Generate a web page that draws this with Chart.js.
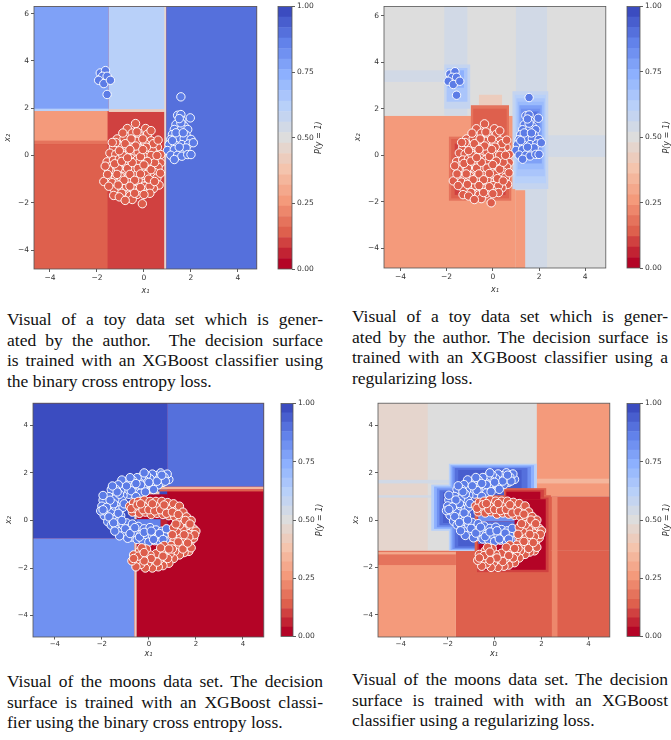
<!DOCTYPE html>
<html>
<head>
<meta charset="utf-8">
<script src="https://cdn.jsdelivr.net/npm/chart.js@4.4.1/dist/chart.umd.min.js"></script>
<style>
body { margin: 0; background: #fff; }
#fig { position: relative; width: 671px; height: 740px; overflow: hidden; }
canvas { position: absolute; }
.cap { position: absolute; width: 316px; font-family: 'Liberation Serif', 'Times New Roman', serif; font-size: 17.5px; line-height: 20.5px; color: #111; }
.cap div { white-space: nowrap; text-align: justify; text-align-last: justify; }
.cap div.last { text-align-last: left; }
</style>
</head>
<body>
<div id="fig">
  <canvas id="p1" width="262" height="300" style="left:0;top:0"></canvas>
  <canvas id="c1" width="64" height="276" style="left:270px;top:0"></canvas>
  <canvas id="p2" width="261" height="299" style="left:350px;top:0"></canvas>
  <canvas id="c2" width="52" height="275" style="left:619px;top:0"></canvas>
  <canvas id="p3" width="269" height="264" style="left:0;top:397px"></canvas>
  <canvas id="c3" width="62" height="246" style="left:273px;top:397px"></canvas>
  <canvas id="p4" width="265" height="264" style="left:350px;top:397px"></canvas>
  <canvas id="c4" width="52" height="246" style="left:619px;top:397px"></canvas>

  <div class="cap" style="left:7px;top:309px">
    <div>Visual of a toy data set which is gener-</div>
    <div>ated by the author.&nbsp; The decision surface</div>
    <div>is trained with an XGBoost classifier using</div>
    <div class="last">the binary cross entropy loss.</div>
  </div>
  <div class="cap" style="left:352px;top:306px">
    <div>Visual of a toy data set which is gener-</div>
    <div>ated by the author. The decision surface is</div>
    <div>trained with an XGBoost classifier using a</div>
    <div class="last">regularizing loss.</div>
  </div>
  <div class="cap" style="left:7px;top:671px">
    <div>Visual of the moons data set. The decision</div>
    <div>surface is trained with an XGBoost classi-</div>
    <div class="last">fier using the binary cross entropy loss.</div>
  </div>
  <div class="cap" style="left:352px;top:669px">
    <div>Visual of the moons data set. The decision</div>
    <div>surface is trained with with an XGBoost</div>
    <div class="last">classifier using a regularizing loss.</div>
  </div>
</div>

<script>
// tick labels
const toyXTicks = [-4, -2, 0, 2, 4];
const toyYTicks = [-4, -2, 0, 2, 4, 6];
const moonTicks = [-4, -2, 0, 2, 4];
const cbTicks = [0, 0.25, 0.5, 0.75, 1];

// contour levels of the colorbar
const levels = [0, 0.04, 0.08, 0.12, 0.16, 0.2, 0.24, 0.28, 0.32, 0.36, 0.4, 0.44, 0.48,
                0.52, 0.56, 0.6, 0.64, 0.68, 0.72, 0.76, 0.8, 0.84, 0.88, 0.92, 0.96, 1];

// toy data set: class 0 (red) and class 1 (blue)
const toyRed = [
  [-0.36,1.35],[0.07,1.14],[-0.71,1.14],[-0.5,0.95],[-0.2,0.85],[0.15,0.9],[-1.14,0.7],[-0.85,0.72],
  [-0.3,0.6],[0.3,0.62],[-0.6,0.55],[0.05,0.5],[-1.3,0.35],[-1.0,0.38],[-0.75,0.3],[-0.45,0.35],
  [-0.15,0.28],[0.2,0.33],[0.57,0.35],[0.45,0.1],[-1.45,0.1],[-1.2,0.05],[-0.95,0.12],[-0.65,0.05],
  [-0.4,0.1],[-0.1,0.02],[0.15,0.08],[0.71,0.04],[-1.57,-0.27],[-1.3,-0.2],[-1.05,-0.15],[-0.8,-0.2],
  [-0.55,-0.12],[-0.3,-0.18],[-0.05,-0.22],[0.25,-0.15],[0.5,-0.2],[0.71,-0.31],[-1.4,-0.45],[-1.15,-0.4],
  [-0.9,-0.45],[-0.65,-0.38],[-0.4,-0.42],[-0.18,-0.45],[0.08,-0.4],[0.35,-0.42],[0.6,-0.5],[-1.3,-0.7],
  [-1.05,-0.65],[-0.8,-0.7],[-0.55,-0.62],[-0.3,-0.68],[-0.05,-0.7],[0.2,-0.65],[0.45,-0.72],[-1.45,-0.9],
  [-1.2,-0.92],[-0.95,-0.88],[-0.7,-0.95],[-0.45,-0.9],[-0.2,-0.95],[0.05,-0.92],[0.3,-0.88],[0.55,-0.95],
  [-1.71,-1.1],[-1.36,-1.15],[-1.05,-1.12],[-0.8,-1.2],[-0.55,-1.15],[-0.3,-1.2],[-0.05,-1.18],[0.2,-1.15],
  [0.64,-1.25],[-1.25,-1.45],[-0.95,-1.4],[-0.7,-1.45],[-0.45,-1.42],[-0.2,-1.5],[0.1,-1.45],[0.4,-1.4],
  [-1.29,-1.69],[-0.85,-1.65],[-0.6,-1.7],[-0.3,-1.65],[-0.5,-1.86],[-0.07,-2.04],[-0.6,-0.25],[-0.45,-0.55],
  [-0.2,-0.3],[-0.1,-0.55],[0.0,-0.05],[-0.35,-0.85],[-0.85,-0.3],[-0.7,-0.55],[0.1,-0.8],[-0.25,0.15],
  [-0.55,-1.0],[-1.0,-0.9],[0.3,-0.6],[0.45,-0.3],[-0.9,0.0],[-1.1,-0.55],[-0.25,-1.05],[0.0,-1.3],
  [-0.75,-1.3],[0.35,0.25],[-0.55,0.7],[-0.05,0.7],[0.4,0.5],[-1.2,0.55],[-0.95,-1.6],[0.25,-1.3],[-1.5,-0.6],
  [-0.8,0.5],[-0.35,0.4],[0.1,0.35],[-1.05,0.2],[-0.6,0.25],[-0.15,-0.05],[0.3,0.0],[-1.25,-0.35],
  [-0.95,-0.25],[-0.5,-0.3],[-0.25,-0.55],[0.15,-0.25],[0.55,0.0],[-1.55,-0.8],[-1.15,-0.8],[-0.6,-0.8],
  [-0.15,-0.78],[0.2,-1.0],[-0.4,-1.05],[-0.85,-1.05],[0.45,-1.1],[-1.5,-1.3],[-1.1,-1.25],[-0.6,-1.3],
  [-0.15,-1.35],[0.25,-1.6],[-0.4,-1.6],[-1.05,-1.75],[-0.8,-1.9],[0.0,-1.65],[-1.35,0.55],[-0.3,1.0],
  [0.3,1.05],[-0.9,0.95],[0.6,0.65],[-1.65,-0.45],[0.7,-0.75],[-0.05,0.25],[-0.7,-0.1],[0.0,-0.4]
];
const toyBlue = [
  [-1.86,3.49],[-1.64,3.59],[-1.76,3.35],[-1.57,3.35],[-1.93,3.18],[-1.71,3.04],[-1.43,3.18],[-1.57,2.58],
  [1.57,2.48],[1.43,1.7],[1.57,1.73],[1.97,1.59],[1.61,1.49],[1.36,1.31],[1.71,1.24],[1.29,1.1],
  [1.61,1.14],[1.86,1.1],[1.21,0.89],[1.5,0.89],[1.79,0.86],[1.14,0.68],[1.43,0.68],[1.71,0.72],
  [2.0,0.68],[1.07,0.46],[1.33,0.44],[1.61,0.46],[1.9,0.49],[2.1,0.54],[1.0,0.21],[1.29,0.25],
  [1.57,0.21],[1.79,0.32],[1.14,0.01],[1.43,0.01],[1.61,-0.03],[1.86,0.04],[2.0,0.04],[1.29,-0.17],
  [1.5,0.35],[1.21,0.63],[1.36,0.96],[1.67,0.96],[1.57,1.38],[1.5,1.56]
];

// moons data set
const moonBlue = [
  [0.85,1.72],[0.78,1.95],[0.65,1.82],[0.6,1.6],[0.5,2.0],[0.45,1.75],[0.4,1.5],[0.3,1.88],
  [0.25,1.65],[0.15,1.95],[0.1,1.45],[0.05,1.75],[-0.05,1.55],[-0.1,1.9],[-0.2,1.7],[-0.25,1.4],
  [-0.3,1.85],[-0.4,1.6],[-0.45,1.3],[-0.5,1.8],[-0.6,1.5],[-0.65,1.2],[-0.7,1.7],[-0.8,1.4],
  [-0.85,1.1],[-0.9,1.65],[-1.0,1.3],[-1.05,1.5],[-1.1,1.05],[-1.15,1.7],[-1.2,1.25],[-1.3,1.5],
  [-1.35,1.0],[-1.4,1.3],[-0.35,1.15],[0.2,1.3],[-0.15,1.2],[-1.5,1.15],[-1.55,0.85],[-1.6,1.3],
  [-1.65,0.6],[-1.7,1.0],[-1.8,0.75],[-1.85,0.45],[-1.95,0.85],[-2.0,0.6],[-1.9,0.2],[-1.75,0.3],
  [-1.6,0.35],[-1.45,0.6],[-1.3,0.75],[-1.25,0.45],[-1.4,0.15],[-1.55,0.05],[-1.75,-0.05],[-1.2,0.2],
  [-1.1,0.55],[-1.15,0.85],[-2.05,0.4],[-1.45,0.9],[-1.6,-0.2],[-1.4,-0.3],[-1.3,-0.05],[-1.2,-0.45],
  [-1.1,-0.2],[-1.0,-0.55],[-0.95,-0.1],[-0.85,-0.35],[-0.75,-0.7],[-0.7,-0.15],[-0.6,-0.5],[-0.5,-0.8],
  [-0.45,-0.25],[-0.35,-0.6],[-0.25,-0.85],[-0.2,-0.35],[-0.1,-0.6],[0.0,-0.9],[0.05,-0.3],[0.15,-0.65],
  [0.25,-0.85],[0.3,-0.4],[0.4,-0.7],[0.5,-0.9],[0.55,-0.45],[0.65,-0.65],[0.75,-0.35],[0.7,-0.85],
  [-1.25,-0.65],[-0.9,-0.75],[0.7,1.65],[0.35,1.65],[0.0,1.6],[-0.35,1.5],[-0.55,1.55],[-0.75,1.25],
  [-0.95,1.45],[-1.25,1.1],[-1.35,1.2],[-1.5,0.7],[-1.65,0.85],[-1.8,0.55],[-1.95,0.45],[-1.7,0.15],
  [-1.5,-0.1],[-1.3,0.3],[-1.15,0.0],[-1.0,-0.35],[-0.8,-0.55],[-0.6,-0.3],[-0.4,-0.7],[-0.2,-0.5],
  [0.1,-0.45],[0.2,-0.8],[0.45,-0.55],[0.6,-0.8],[-1.45,-0.45],[-1.05,0.7],[-0.55,1.0],[0.55,1.9],
  [-0.2,2.0],[-0.8,1.8],[-1.55,1.45],[-1.95,1.05]
];
const moonRed = [
  [-0.82,0.6],[-0.7,0.35],[-0.65,0.75],[-0.55,0.5],[-0.45,0.8],[-0.4,0.3],[-0.3,0.6],[-0.2,0.85],
  [-0.15,0.35],[-0.05,0.6],[0.05,0.8],[0.1,0.25],[0.2,0.55],[0.3,0.8],[0.35,0.3],[0.45,0.6],
  [0.55,0.8],[0.6,0.25],[0.7,0.5],[0.8,0.75],[0.85,0.2],[0.95,0.5],[1.05,0.7],[1.1,0.15],
  [1.2,0.45],[1.3,0.6],[1.35,0.1],[1.45,0.35],[1.5,-0.1],[1.6,0.15],[1.7,-0.3],[1.8,0.0],
  [1.9,-0.35],[2.0,-0.45],[1.85,-0.6],[1.65,-0.55],[1.45,-0.4],[1.3,-0.2],[1.2,-0.5],[1.1,-0.8],
  [1.35,-0.75],[1.55,-0.85],[1.75,-0.9],[1.9,-0.75],[1.05,-0.3],[1.0,-0.6],[1.6,-1.1],[1.4,-1.05],
  [1.2,-1.1],[1.7,-1.3],[1.5,-1.35],[1.3,-1.45],[1.8,-1.15],[1.1,-1.3],[1.05,-1.6],[0.95,-1.05],
  [0.9,-1.4],[0.85,-1.8],[0.75,-1.2],[0.7,-1.55],[0.6,-1.9],[0.55,-1.3],[0.45,-1.65],[0.4,-1.95],
  [0.3,-1.4],[0.2,-1.75],[0.15,-2.0],[0.05,-1.45],[-0.05,-1.8],[-0.1,-1.2],[-0.15,-2.0],[-0.25,-1.55],
  [-0.35,-1.85],[-0.4,-1.3],[-0.5,-1.65],[-0.55,-1.95],[-0.65,-1.45],[-0.72,-1.7],[-0.3,-1.15],[0.65,-1.05],
  [-0.75,0.5],[-0.5,0.65],[-0.25,0.45],[0.0,0.45],[0.25,0.4],[0.5,0.45],[0.75,0.3],[1.0,0.35],
  [1.25,0.25],[1.55,0.0],[1.75,-0.15],[1.95,-0.6],[1.7,-0.7],[1.5,-0.6],[1.25,-0.9],[1.45,-1.2],
  [1.65,-0.95],[1.0,-1.2],[0.8,-1.6],[0.6,-1.5],[0.35,-1.75],[0.1,-1.6],[-0.2,-1.7],[-0.45,-1.5],
  [-0.65,-1.6],[0.5,-1.15],[-0.2,-1.35],[0.85,-1.2],[1.15,-0.15],[0.65,0.65],[0.15,0.7],[-0.35,0.7]
];

// decision surfaces: [x0, x1, y0, y1, P(y=1)], later cells drawn over earlier ones
const toyBceSurface = [
  [-6, 6, -6, 8, 0.08],
  [-6, -1.55, -6, 0.48, 0.12],
  [-6, -1.55, 0.48, 0.62, 0.18],
  [-6, -1.55, 0.62, 1.9, 0.25],
  [-6, -1.5, 1.9, 8, 0.77],
  [-1.5, 0.9, 1.9, 8, 0.6],
  [-1.5, 0.9, 1.84, 1.96, 0.42],
  [-6, -1.5, 1.88, 1.98, 0.62],
  [0.86, 0.95, -6, 8, 0.46],
  [0.95, 6, -6, 8, 0.9]
];
const toyRegSurface = [
  [-6, 6, -6, 8, 0.5],
  [-2.1, -1.1, 1.7, 8, 0.53],
  [-6, -1.1, 3.15, 3.65, 0.53],
  [1.0, 2.35, -6, 8, 0.53],
  [2.35, 6, -0.07, 0.86, 0.53],
  [-6, 0.97, -6, 1.69, 0.25],
  [0.97, 1.4, -6, -1.5, 0.25],
  [-0.6, 0.4, 2.15, 2.6, 0.4],
  [-1.9, 0.8, -1.95, 0.8, 0.17],
  [-0.95, 0.7, 0.8, 2.15, 0.17],
  [-1.8, 0.7, -1.85, 0.7, 0.13],
  [-0.85, 0.6, 0.7, 2.0, 0.14],
  [-1.65, 0.55, -1.7, 0.5, 0.1],
  [0.85, 2.4, -1.45, 2.75, 0.56],
  [0.95, 2.3, -1.2, 2.6, 0.61],
  [1.02, 2.25, -0.9, 2.45, 0.66],
  [1.08, 2.2, -0.6, 2.3, 0.71],
  [1.15, 2.12, -0.35, 2.15, 0.76],
  [1.22, 2.05, -0.15, 2.0, 0.81],
  [1.3, 1.98, 0.2, 1.9, 0.85],
  [1.4, 1.9, 0.8, 1.85, 0.9],
  [-2.1, -0.98, 2.0, 3.9, 0.58],
  [-2.0, -1.1, 2.3, 3.75, 0.65],
  [-1.95, -1.25, 2.9, 3.65, 0.72]
];
const moonBceSurface = [
  [-6, 6, -6, 6, 0.02],
  [-6, 0.78, -0.75, 6, 0.98],
  [0.78, 6, 1.42, 6, 0.9],
  [-6, -0.62, -6, -0.75, 0.8],
  [-0.62, -0.52, -6, -0.75, 0.42],
  [0.45, 6, 1.3, 1.42, 0.35],
  [0.45, 6, 1.22, 1.3, 0.12],
  [-0.58, 0.78, 0.05, 1.1, 0.03],
  [-0.58, 0.45, 1.1, 1.22, 0.42],
  [-0.62, -0.52, 0.05, 1.1, 0.45],
  [-0.52, 0.5, -0.75, 0.05, 0.85],
  [0.5, 0.78, -0.75, 0.05, 0.05],
  [-0.52, 0.7, -0.95, -0.75, 0.62]
];
const moonRegSurface = [
  [-6, 6, -6, 6, 0.5],
  [-6, -2.85, -1.3, 6, 0.47],
  [-6, 1.8, 0.95, 1.05, 0.55],
  [-6, -1.8, 1.55, 1.7, 0.53],
  [1.8, 6, 1.0, 6, 0.25],
  [1.8, 6, 1.55, 1.75, 0.33],
  [1.8, 6, -1.3, 1.0, 0.15],
  [-1.65, 6, -6, -1.3, 0.15],
  [2.44, 2.68, -6, 1.0, 0.2],
  [-6, -1.65, -6, -1.3, 0.25],
  [-6, -1.65, -1.9, -1.3, 0.19],
  [-6, -1.65, -1.45, -1.35, 0.3],
  // blue around the upper moon
  [-1.95, 1.8, -1.3, 2.38, 0.62],
  [-2.7, -1.5, -0.45, 1.5, 0.62],
  [-1.88, 1.68, -1.26, 2.32, 0.72],
  [-2.58, -1.5, -0.37, 1.42, 0.72],
  [-1.8, 1.55, -1.22, 2.26, 0.8],
  [-2.46, -1.5, -0.3, 1.34, 0.8],
  [-1.7, 1.4, -1.17, 2.2, 0.88],
  [-2.35, -1.5, -0.22, 1.26, 0.88],
  [-1.55, 1.15, -1.1, 2.12, 0.93],
  [-2.2, -1.45, -0.12, 1.18, 0.93],
  // red around the lower moon
  [-0.85, 2.4, -2.3, 1.05, 0.14],
  [0.4, 2.2, 1.05, 1.35, 0.14],
  [-0.75, 2.3, -2.2, 0.95, 0.08],
  [0.45, 2.1, 0.95, 1.28, 0.08],
  [-0.68, 2.18, -2.1, 0.88, 0.02],
  [0.5, 1.95, 0.88, 1.2, 0.02],
  // blue arm between the red arms
  [-0.7, 0.85, -1.0, -0.05, 0.9],
  [-0.7, 0.85, -0.05, 0.18, 0.8]
];

// matplotlib coolwarm anchors
const coolwarm = [
  [0, 59, 76, 192], [0.125, 98, 130, 234], [0.25, 141, 176, 254], [0.375, 184, 208, 249],
  [0.5, 221, 221, 221], [0.625, 244, 196, 173], [0.75, 244, 154, 123], [0.875, 222, 96, 77], [1, 180, 4, 38]
];
function cw(t) {
  for (let i = 1; i < coolwarm.length; i++) {
    const a = coolwarm[i - 1], b = coolwarm[i];
    if (t <= b[0]) {
      const f = (t - a[0]) / (b[0] - a[0]);
      return 'rgb(' + [1, 2, 3].map(k => Math.round(a[k] + f * (b[k] - a[k]))).join(',') + ')';
    }
  }
  return 'rgb(180,4,38)';
}
const nBands = levels.length - 1;
// reversed map: P = 1 is blue
const bandColor = i => cw(1 - i / (nBands - 1));
function probColor(p) {
  let i = 0;
  while (i < nBands - 1 && p >= levels[i + 1]) i++;
  return bandColor(i);
}

const fmt = v => v < 0 ? '\u2212' + Math.abs(v) : String(v);
const FONT = 'DejaVu Sans';

function axis(vals, min, max, title, o) {
  return {
    type: 'linear', min, max, position: o.pos,
    afterBuildTicks: s => { s.ticks = vals.map(v => ({ value: v })); },
    afterFit: s => { if (o.pos === 'left') s.width = o.size; else s.height = o.size; },
    grid: { drawOnChartArea: false, drawTicks: true, tickLength: o.tl, color: '#333', lineWidth: 0.8 },
    border: { display: false },
    ticks: { font: { family: FONT, size: o.fs }, color: '#333', padding: o.tp, maxRotation: 0, autoSkip: false, callback: v => fmt(v) },
    title: { display: true, text: title, color: '#333', font: { family: FONT, size: 8, style: 'italic' }, padding: o.titlePad }
  };
}

const framePlugin = {
  id: 'frame',
  afterDraw(chart) {
    const { ctx, chartArea: a } = chart;
    ctx.save();
    ctx.strokeStyle = '#555';
    ctx.lineWidth = 0.8;
    ctx.strokeRect(a.left, a.top, a.width, a.height);
    ctx.restore();
  }
};

function surfacePlugin(cells) {
  return {
    id: 'surface',
    beforeDatasetsDraw(chart) {
      const { ctx, chartArea: a, scales: { x, y } } = chart;
      ctx.save();
      ctx.beginPath();
      ctx.rect(a.left, a.top, a.width, a.height);
      ctx.clip();
      cells.forEach(([x0, x1, y0, y1, p]) => {
        const l = x.getPixelForValue(x0), r = x.getPixelForValue(x1);
        const t = y.getPixelForValue(y1), b = y.getPixelForValue(y0);
        ctx.fillStyle = probColor(p);
        ctx.fillRect(l, t, r - l, b - t);
      });
      ctx.restore();
    }
  };
}

function pts(arr, color) {
  return {
    data: arr.map(([x, y]) => ({ x, y })),
    backgroundColor: color, borderColor: 'rgba(255,255,255,0.95)', borderWidth: 1, pointRadius: 4.2
  };
}

function panel(id, red, blue, cells, lim, g) {
  new Chart(document.getElementById(id), {
    type: 'scatter',
    data: { datasets: [pts(red, 'rgb(221,94,76)'), pts(blue, 'rgb(92,124,230)')] },
    options: {
      responsive: false, animation: false, events: [],
      layout: { padding: { left: 0, top: g.top, right: 3, bottom: 0 } },
      plugins: { legend: { display: false }, tooltip: { enabled: false } },
      scales: {
        x: axis(lim.xt, lim.x[0], lim.x[1], 'x\u2081',
          { pos: 'bottom', size: g.xh, tl: g.tl, fs: g.fs, tp: g.tp, titlePad: { top: 0, bottom: g.xtp } }),
        y: axis(lim.yt, lim.y[0], lim.y[1], 'x\u2082',
          { pos: 'left', size: g.yw, tl: 3, fs: g.fs, tp: 2, titlePad: { top: g.ytp, bottom: 0 } })
      }
    },
    plugins: [surfacePlugin(cells), framePlugin]
  });
}

function colorbar(id, g) {
  new Chart(document.getElementById(id), {
    type: 'bar',
    data: {
      labels: [''],
      datasets: levels.slice(0, -1).map((l, i) => ({
        data: [levels[i + 1] - l], backgroundColor: bandColor(i), borderWidth: 0,
        barPercentage: 1, categoryPercentage: 1
      }))
    },
    options: {
      responsive: false, animation: false, events: [],
      layout: { padding: { left: 8, top: g.top, right: 0, bottom: g.bottom } },
      plugins: { legend: { display: false }, tooltip: { enabled: false } },
      scales: {
        x: { display: false, stacked: true },
        y: {
          stacked: true, min: 0, max: 1, position: 'right',
          afterBuildTicks: s => { s.ticks = cbTicks.map(v => ({ value: v })); },
          afterFit: s => { s.width = g.w; },
          grid: { drawOnChartArea: false, drawTicks: true, tickLength: 3, color: '#333', lineWidth: 0.8 },
          border: { display: false },
          ticks: { font: { family: FONT, size: 7.5 }, color: '#333', padding: 2, callback: v => v.toFixed(2) }
        }
      }
    },
    plugins: [framePlugin, {
      id: 'cblabel',
      afterDraw(chart) {
        const { ctx, chartArea: a } = chart;
        ctx.save();
        ctx.translate(a.right + 27, (a.top + a.bottom) / 2);
        ctx.rotate(-Math.PI / 2);
        ctx.font = 'italic 8px ' + FONT;
        ctx.fillStyle = '#333';
        ctx.textAlign = 'center';
        ctx.textBaseline = 'middle';
        ctx.fillText('P(y = 1)', 0, 0);
        ctx.restore();
      }
    }]
  });
}

const gTop = { top: 4, xh: 31, yw: 34, tl: 3, fs: 7.5, tp: 2, xtp: 4, ytp: 3.5 };
panel('p1', toyRed, toyBlue, toyBceSurface,
  { x: [-4.68, 4.8], y: [-4.8, 6.3], xt: toyXTicks, yt: toyYTicks }, gTop);
panel('p2', toyRed, toyBlue, toyRegSurface,
  { x: [-4.71, 4.89], y: [-4.84, 6.39], xt: toyXTicks, yt: toyYTicks }, Object.assign({}, gTop, { top: 6 }));
panel('p3', moonRed, moonBlue, moonBceSurface,
  { x: [-4.93, 4.89], y: [-4.9, 4.93], xt: moonTicks, yt: moonTicks },
  { top: 6, xh: 24, yw: 33, tl: 2.5, fs: 7, tp: 0.5, xtp: 2, ytp: 4 });
panel('p4', moonRed, moonBlue, moonRegSurface,
  { x: [-4.97, 4.91], y: [-4.94, 4.94], xt: moonTicks, yt: moonTicks },
  { top: 6, xh: 24, yw: 28, tl: 2.5, fs: 7, tp: 0.5, xtp: 2, ytp: 1 });

colorbar('c1', { top: 4, bottom: 7, w: 42 });
colorbar('c2', { top: 6, bottom: 7, w: 31 });
colorbar('c3', { top: 6, bottom: 6, w: 42 });
colorbar('c4', { top: 6, bottom: 6, w: 31 });
</script>
</body>
</html>
